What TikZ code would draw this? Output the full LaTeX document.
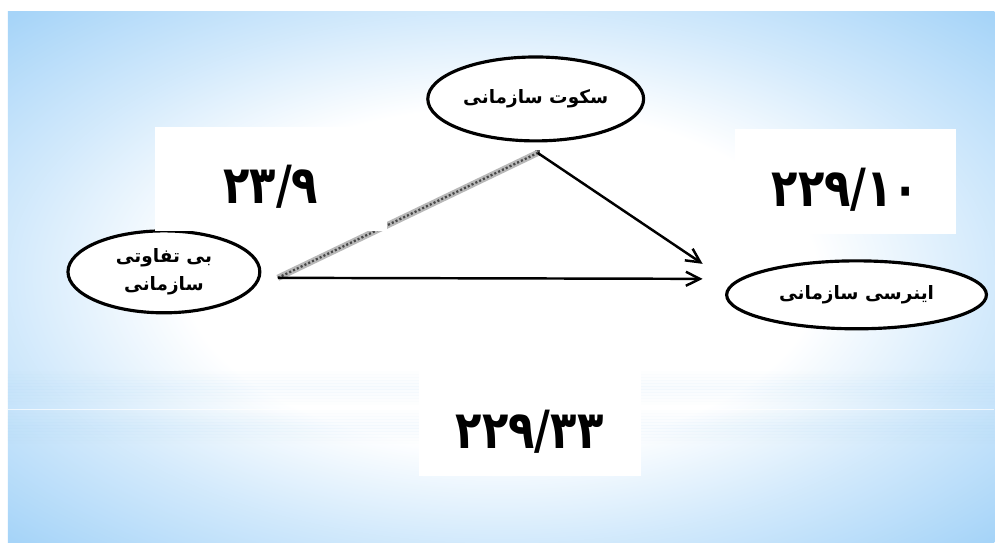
\documentclass[tikz,border=0pt]{standalone}
\usepackage{fontspec}
\usetikzlibrary{arrows.meta, shapes.geometric}
\newfontfamily\farsi[Script=Arabic]{DejaVu Sans}
\newfontfamily\farsinum[Script=Arabic, FakeStretch=0.82]{DejaVu Sans}
\TeXXeTstate=1
\definecolor{skyblue}{HTML}{A6D4F8}
\pgfdeclareradialshading{skyglow}{\pgfpoint{0bp}{0bp}}{color(0bp)=(white); color(16bp)=(white); color(25bp)=(skyblue!50); color(35bp)=(skyblue); color(50bp)=(skyblue)}

\begin{document}
\begin{tikzpicture}[x=0.02cm, y=-0.02cm, font=\farsi,
  varnode/.style={ellipse, draw=black, line width=1.8pt, fill=white, inner sep=0pt, align=center, font=\farsi\bfseries\fontsize{10.5}{16}\selectfont},
  coefbox/.style={rectangle, fill=white, inner sep=0pt, minimum width=4.44cm, minimum height=2.1cm, font=\farsinum\bfseries\fontsize{30}{34}\selectfont},
  pathline/.style={line width=1.4pt, -{Straight Barb[length=2.8mm, width=2.8mm]}}]

  % page and blue glow
  \fill[white] (0,0) rectangle (995,543);
  \shade[shading=skyglow] (8,12) rectangle (995,543);

  % soft bands across the lower part
  \foreach \mid in {388, 427}
    \foreach \d in {-15,-12,...,15}
      \shade[left color=skyblue, middle color=skyblue!10, right color=skyblue, opacity={0.08*(1-abs(\d)/18)}]
        (8,\mid+\d-1.5) rectangle (995,\mid+\d+1.5);
  \draw[white, opacity=0.7, line width=0.6pt] (8,410) -- (995,410);

  % variables
  \node[varnode, minimum width=4.32cm, minimum height=1.68cm] (silence) at (536,99) {\beginR سکوت سازمانی\endR};
  \node[varnode, minimum width=3.84cm, minimum height=1.64cm] (indiff) at (164,272) {\beginR بی تفاوتی\endR\\\beginR سازمانی\endR};
  \node[varnode, minimum width=5.2cm, minimum height=1.36cm] (inertia) at (857,295) {\beginR اینرسی سازمانی\endR};

  % path ends
  \coordinate (src) at (278,278);
  \node[fill=black!65, minimum size=1.1mm, inner sep=0pt] (apex) at (538,153) {};
  \coordinate (tipA) at (703,264);
  \coordinate (tipB) at (703,279);

  % grey indirect path, then the arrows
  \draw[line width=3.6pt, black!28] (src) -- (apex.center);
  \draw[line width=1.3pt, black!72, dash pattern=on 1.2pt off 1.2pt] (src) -- (apex.center);
  \draw[pathline] (apex.center) -- (tipA);
  \draw[pathline] (src) -- (tipB);

  % coefficients
  \node[coefbox, minimum width=4.64cm, minimum height=2.08cm] (coefa) at (271,179) {\raisebox{-14pt}[0pt][0pt]{۲۳/۹}};
  \node[coefbox] (coefb) at (846,182) {\raisebox{-14pt}[0pt][0pt]{۲۲۹/۱۰}};
  \node[coefbox] (coeftotal) at (530,424) {\raisebox{-14pt}[0pt][0pt]{۲۲۹/۳۳}};
\end{tikzpicture}
\end{document}
